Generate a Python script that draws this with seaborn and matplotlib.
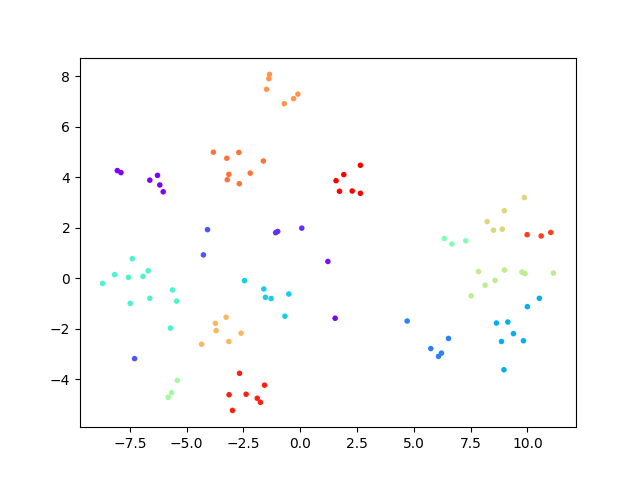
import matplotlib
matplotlib.use("Agg")
import matplotlib.pyplot as plt
import seaborn as sns
import pandas as pd

# coordinates of the embedded points
x_vals = [
    -8.05, -7.89, -6.28, -6.62, -6.18, -6.03, 1.54, 1.22,          # purple
    -1.08, -0.99, 0.07,                                             # indigo
    -4.08, -4.26, -7.29,                                            # blue
    4.71, 6.53, 5.75, 6.22, 6.09,                                   # mid blue
    10.53, 10.00, 8.64, 9.14, 9.39, 8.86, 9.83, 8.97,               # light blue
    -2.45, -1.60, -1.53, -1.28, -0.50, -0.67,                       # cyan
    -7.39, -8.17, -8.70, -7.56, -6.92, -6.69, -7.48, -6.62, -5.62, -5.44, -5.71,  # aqua
    6.34, 6.68, 7.29,                                               # light green
    -5.41, -5.66, -5.81,                                            # pale green
    7.85, 8.99, 9.76, 9.90, 11.15, 8.58, 8.14, 7.53,                # yellow green
    9.87, 8.99, 8.23, 8.51, 8.90,                                   # yellow
    -3.26, -3.73, -3.70, -2.60, -3.14, -4.34,                       # light orange
    -1.35, -1.38, -1.48, -0.70, -0.29, -0.10,                       # orange
    -3.82, -3.23, -2.70, -1.62, -3.14, -2.20, -3.21, -2.68,         # dark orange
    9.99, 10.61, 11.03,                                             # red orange
    -2.67, -1.57, -3.13, -2.38, -1.89, -1.75, -2.98,                # orange red
    2.65, 1.92, 1.58, 1.73, 2.29, 2.65,                             # red
]
y_vals = [
    4.27, 4.19, 4.08, 3.89, 3.70, 3.43, -1.58, 0.67,
    1.81, 1.86, 1.99,
    1.93, 0.93, -3.18,
    -1.69, -2.38, -2.78, -2.96, -3.09,
    -0.79, -1.12, -1.77, -1.73, -2.19, -2.50, -2.47, -3.62,
    -0.09, -0.42, -0.75, -0.80, -0.62, -1.50,
    0.78, 0.15, -0.20, 0.04, 0.08, 0.30, -0.99, -0.79, -0.46, -0.90, -1.97,
    1.58, 1.36, 1.49,
    -4.04, -4.53, -4.71,
    0.27, 0.33, 0.25, 0.19, 0.21, -0.08, -0.27, -0.69,
    3.20, 2.68, 2.25, 1.91, 1.95,
    -1.54, -1.78, -2.07, -2.17, -2.50, -2.61,
    8.08, 7.91, 7.49, 6.92, 7.12, 7.30,
    5.00, 4.76, 4.99, 4.65, 4.12, 4.17, 3.91, 3.75,
    1.73, 1.68, 1.82,
    -3.76, -4.23, -4.61, -4.59, -4.75, -4.91, -5.23,
    4.48, 4.11, 3.87, 3.45, 3.46, 3.37,
]
# colour value of each group (0..1 on the rainbow map) and group sizes
group_values = [0.0, 0.06, 0.11, 0.17, 0.24, 0.30, 0.40, 0.50, 0.57,
                0.62, 0.68, 0.745, 0.80, 0.85, 0.92, 0.96, 1.0]
group_sizes = [8, 3, 3, 5, 8, 6, 11, 3, 3, 8, 5, 6, 6, 8, 3, 7, 6]

c_vals = []
for v, n in zip(group_values, group_sizes):
    c_vals += [v] * n

# purple points sitting away from the main purple group
c_vals[7] = 0.02

df = pd.DataFrame({"x": x_vals, "y": y_vals, "c": c_vals})

fig, ax = plt.subplots(figsize=(6.4, 4.8), dpi=100)
sns.scatterplot(data=df, x="x", y="y", hue="c", palette="rainbow",
                hue_norm=(0, 1), legend=False, s=16, linewidth=0, ax=ax)
ax.set_xlabel("")
ax.set_ylabel("")

plt.savefig("out.png")
